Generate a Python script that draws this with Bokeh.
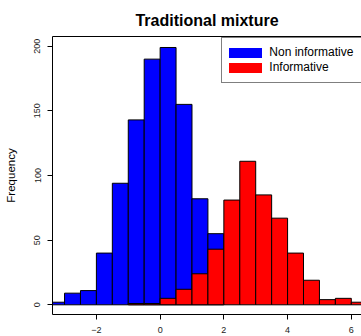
from bokeh.plotting import figure
from bokeh.models import (ColumnDataSource, FixedTicker, LinearAxis, Legend,
                          LegendItem, Range1d)
from bokeh.embed import file_html
from bokeh.resources import INLINE

# Histogram bins (width 0.5) and counts for each prior
bin_width = 0.5
noninf_left = [-3.5, -3.0, -2.5, -2.0, -1.5, -1.0, -0.5, 0.0, 0.5, 1.0, 1.5]
noninf_counts = [2, 9, 11, 40, 94, 143, 190, 199, 155, 82, 55]

inf_left = [-1.0, -0.5, 0.0, 0.5, 1.0, 1.5, 2.0, 2.5, 3.0, 3.5, 4.0, 4.5,
            5.0, 5.5, 6.0]
inf_counts = [1, 1, 5, 12, 24, 43, 81, 111, 85, 67, 40, 19, 4, 5, 2]

x_ticks = [-2, 0, 2, 4, 6]
y_ticks = [0, 50, 100, 150, 200]

FONT = "Liberation Sans"
NAN = float("nan")


def bins(lefts, counts):
    return ColumnDataSource(dict(
        left=lefts,
        right=[v + bin_width for v in lefts],
        top=counts,
        bottom=[0] * len(counts),
    ))


p = figure(width=361, height=336, output_backend="svg", toolbar_location=None,
           x_range=Range1d(-3.378, 6.32), y_range=Range1d(-7.5, 207.5),
           min_border_left=52, min_border_right=0, min_border_top=36,
           min_border_bottom=22, title="Traditional mixture")

p.background_fill_color = "white"
p.border_fill_color = "white"
p.outline_line_color = None
p.grid.visible = False

p.title.align = "center"
p.title.vertical_align = "bottom"
p.title.standoff = 16
p.title.text_font = FONT
p.title.text_font_size = "16px"
p.title.text_font_style = "bold"
p.title.text_color = "black"

blue = p.quad(left="left", right="right", top="top", bottom="bottom",
              source=bins(noninf_left, noninf_counts),
              fill_color="#0000FF", line_color="black", line_width=1)
red = p.quad(left="left", right="right", top="top", bottom="bottom",
             source=bins(inf_left, inf_counts),
             fill_color="#FF0000", line_color="black", line_width=1)

# Legend swatches: thick strokes (no drawn points in the plot)
sw_blue = p.line(x=[NAN], y=[NAN], line_color="#0000FF", line_width=10,
                 line_cap="round", line_join="round")
sw_red = p.line(x=[NAN], y=[NAN], line_color="#FF0000", line_width=10,
                line_cap="round", line_join="round")

xa = p.xaxis[0]
xa.ticker = FixedTicker(ticks=x_ticks)
ya = p.yaxis[0]
ya.ticker = FixedTicker(ticks=y_ticks)
ya.major_label_orientation = "vertical"
ya.axis_label = "Frequency"
ya.axis_label_text_font = FONT
ya.axis_label_text_font_size = "11.5px"
ya.axis_label_text_font_style = "normal"
ya.axis_label_text_color = "black"
ya.axis_label_standoff = 15

for ax in (xa, ya):
    ax.axis_line_color = "black"
    ax.axis_line_width = 1
    ax.major_tick_line_color = "black"
    ax.major_tick_out = 5
    ax.major_tick_in = 0
    ax.minor_tick_line_color = None
    ax.major_label_text_font = FONT
    ax.major_label_text_font_size = "9px"
    ax.major_label_text_color = "#222222"
xa.major_label_standoff = 7
ya.major_label_standoff = 7

# Plain top border line
top = LinearAxis(ticker=FixedTicker(ticks=[]), axis_line_color="black",
                 major_tick_line_color=None, minor_tick_line_color=None,
                 major_label_text_font_size="0px")
p.add_layout(top, "above")

legend = Legend(items=[LegendItem(label="Non informative", renderers=[sw_blue]),
                       LegendItem(label="Informative", renderers=[sw_red])],
                location=(169.3, 231.5), padding=7, margin=0,
                glyph_width=33, glyph_height=15, spacing=0,
                label_standoff=7, label_width=100,
                label_text_font=FONT, label_text_font_size="12px",
                label_text_color="black",
                border_line_color="black", border_line_width=1,
                background_fill_color="white", background_fill_alpha=1)
p.add_layout(legend, "center")

open("out.html", "w").write(file_html(p, INLINE))
